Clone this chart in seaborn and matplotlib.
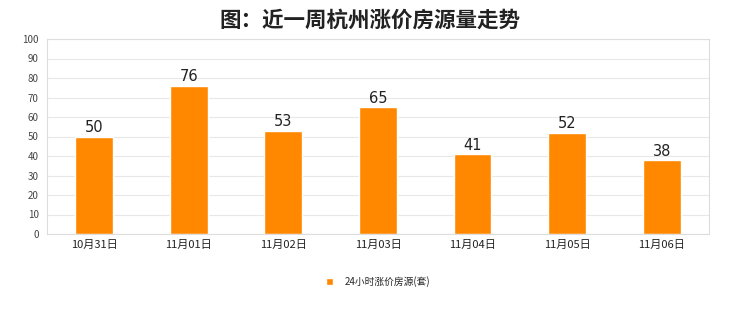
import matplotlib
matplotlib.use("Agg")
import matplotlib.pyplot as plt
import seaborn as sns
import pandas as pd

categories = ["10月31日", "11月01日", "11月02日", "11月03日", "11月04日", "11月05日", "11月06日"]
values = [50, 76, 53, 65, 41, 52, 38]
series_name = "24小时涨价房源(套)"
title = "图：近一周杭州涨价房源量走势"
yticks = [0, 10, 20, 30, 40, 50, 60, 70, 80, 90, 100]

sns.set_theme(style="white")
plt.rcParams['font.family'] = ['Noto Sans CJK SC', 'DejaVu Sans']

df = pd.DataFrame({"date": categories, "value": values, "series": series_name})

fig = plt.figure(figsize=(7.4, 3.12), dpi=100)
fig.patch.set_facecolor("white")
ax = fig.add_axes([0.0635, 0.25, 0.8945, 0.625])
sns.barplot(data=df, x="date", y="value", hue="series", palette=["#FF8800"],
            width=0.4, ax=ax, saturation=1, legend=True)

ax.set_ylim(0, 100)
ax.set_yticks(yticks)
ax.set_xlim(-0.5, len(categories) - 0.5)
ax.yaxis.grid(True, color="#E8E8E8", linewidth=0.8)
ax.set_axisbelow(True)
for s in ax.spines.values():
    s.set_color("#DDDDDD")
    s.set_linewidth(0.8)
ax.tick_params(axis="y", labelsize=7, colors="#444444", length=0, pad=6)
ax.tick_params(axis="x", labelsize=8, colors="#222222", length=0, pad=4)
ax.set_xlabel("")
ax.set_ylabel("")

for c in ax.containers:
    ax.bar_label(c, labels=[str(v) for v in values], fontsize=10.5, color="#222222",
                 padding=1, family="DejaVu Sans")

leg = ax.legend(loc="upper center", bbox_to_anchor=(0.5, -0.17), frameon=False,
                fontsize=7, handlelength=0.7, handleheight=0.7, handletextpad=1.2)
fig.suptitle(title, y=0.97, fontsize=15.5, fontweight="bold", color="#222222")

fig.savefig("out.png", dpi=100, facecolor="white")
